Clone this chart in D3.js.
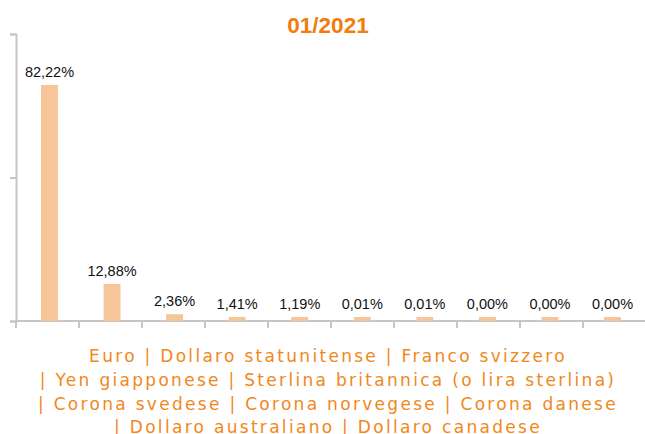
<!DOCTYPE html>
<html lang="en">
<head>
<meta charset="utf-8">
<title>01/2021</title>
<script src="https://d3js.org/d3.v7.min.js"></script>
<style>
  body { margin: 0; background: #fff; }
</style>
</head>
<body>
<script>
var w = 645, h = 434;

var title = "01/2021";
var currencies = ["Euro", "Dollaro statunitense", "Franco svizzero", "Yen giapponese",
  "Sterlina britannica (o lira sterlina)", "Corona svedese", "Corona norvegese",
  "Corona danese", "Dollaro australiano", "Dollaro canadese"];
var shares = [82.22, 12.88, 2.36, 1.41, 1.19, 0.01, 0.01, 0.00, 0.00, 0.00];
var yTicks = [0, 50, 100];
var legendLines = [
  "Euro | Dollaro statunitense | Franco svizzero",
  "| Yen giapponese | Sterlina britannica (o lira sterlina)",
  "| Corona svedese | Corona norvegese | Corona danese",
  "| Dollaro australiano | Dollaro canadese"
];

var margin = { left: 16, right: -1, top: 34, bottom: 113 };

var svg = d3.select("body").append("svg")
  .attr("width", w)
  .attr("height", h);

var x = d3.scaleBand()
  .domain(currencies)
  .range([margin.left, w - margin.right])
  .paddingInner(0.73)
  .paddingOuter(0.4)
  .align(0.5);

var y = d3.scaleLinear()
  .domain([0, 100])
  .range([h - margin.bottom, margin.top]);

var xBand = d3.scaleBand().domain(currencies).range([margin.left, w - margin.right]);

var fmt = function(v) { return v.toFixed(2).replace(".", ",") + "%"; };

// axes
var axisColor = "#c6c6c6";
var yAxis = svg.append("g")
  .attr("transform", "translate(" + margin.left + ",0)")
  .call(d3.axisLeft(y).tickValues(yTicks).tickSize(6).tickFormat(""));
var xAxis = svg.append("g")
  .attr("transform", "translate(0," + y(0) + ")")
  .call(d3.axisBottom(xBand).tickSize(0).tickFormat(""));

[yAxis, xAxis].forEach(function(a) {
  a.selectAll("path, line").attr("stroke", axisColor).attr("stroke-width", 2);
});
xAxis.select(".domain").attr("d", "M" + margin.left + ",0H" + w);

// category separators under the x axis
svg.append("g").selectAll("line")
  .data(currencies)
  .enter().append("line")
  .attr("x1", function(d) { return xBand(d); })
  .attr("x2", function(d) { return xBand(d); })
  .attr("y1", y(0))
  .attr("y2", y(0) + 7)
  .attr("stroke", axisColor)
  .attr("stroke-width", 2);

// bars
svg.append("g").selectAll("rect")
  .data(shares)
  .enter().append("rect")
  .attr("x", function(d, i) { return x(currencies[i]); })
  .attr("width", x.bandwidth())
  .attr("y", function(d) { return Math.min(y(d), y(0) - 4); })
  .attr("height", function(d) { return Math.max(y(0) - y(d), 4); })
  .attr("fill", "#f6c598");

// value labels
svg.append("g").selectAll("text")
  .data(shares)
  .enter().append("text")
  .attr("x", function(d, i) { return x(currencies[i]) + x.bandwidth() / 2; })
  .attr("y", function(d) { return Math.min(y(d), y(0) - 4) - 8; })
  .attr("text-anchor", "middle")
  .attr("font-family", "Liberation Sans, Arial, sans-serif")
  .attr("font-size", 14.5)
  .attr("fill", "#111")
  .text(fmt);

// title
svg.append("text")
  .attr("x", 328)
  .attr("y", 33)
  .attr("text-anchor", "middle")
  .attr("font-family", "Liberation Sans, Arial, sans-serif")
  .attr("font-weight", "bold")
  .attr("font-size", 22.5)
  .attr("fill", "#f07d0c")
  .text(title);

// category legend text
svg.append("g").selectAll("text")
  .data(legendLines)
  .enter().append("text")
  .attr("x", 328)
  .attr("y", function(d, i) { return 362 + i * 23.8; })
  .attr("text-anchor", "middle")
  .attr("font-family", "DejaVu Sans, Verdana, sans-serif")
  .attr("font-size", 17)
  .attr("letter-spacing", 2.3)
  .attr("fill", "#f0881c")
  .text(function(d) { return d; });
</script>
</body>
</html>
